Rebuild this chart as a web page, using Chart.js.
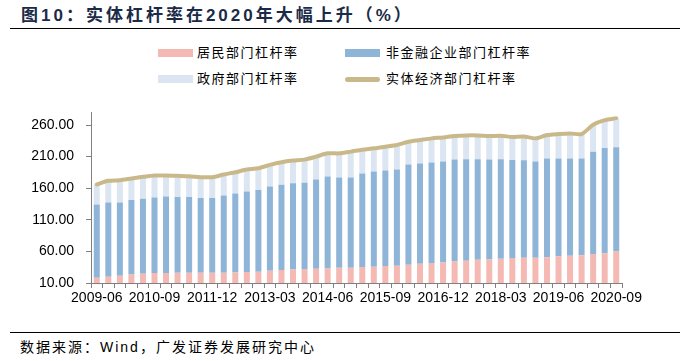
<!DOCTYPE html>
<html>
<head>
<meta charset="utf-8">
<script src="https://cdn.jsdelivr.net/npm/chart.js@4/dist/chart.umd.min.js"></script>
<style>
  body { margin: 0; background: #fff; width: 689px; height: 361px; position: relative; overflow: hidden; font-family: "Liberation Sans", "Noto Sans CJK SC", sans-serif; }
  #title { position: absolute; left: 21px; top: 1px; font-size: 17px; font-weight: bold; color: #1b2a47; white-space: nowrap; letter-spacing: 3px; }
  .rule { position: absolute; left: 10px; width: 670px; height: 1px; background: #000; }
  #footer { position: absolute; left: 20px; top: 336px; font-size: 14px; color: #000; letter-spacing: 2px; white-space: nowrap; }
  .leg { position: absolute; font-size: 13px; letter-spacing: 1.5px; color: #000; white-space: nowrap; line-height: 16px; }
  .sw { position: absolute; width: 35px; height: 8px; }
  #chartBox { position: absolute; left: 0; top: 92px; width: 689px; height: 223px; }
</style>
</head>
<body>
<div id="title">图10：实体杠杆率在2020年大幅上升（%）</div>
<div class="rule" style="top:28px"></div>

<div class="sw" style="left:158px;top:49px;background:#f4b9b2"></div>
<div class="leg" style="left:197px;top:45px">居民部门杠杆率</div>
<div class="sw" style="left:345px;top:49px;background:#8eb4d8"></div>
<div class="leg" style="left:386px;top:45px">非金融企业部门杠杆率</div>
<div class="sw" style="left:158px;top:75px;background:#dce6f2"></div>
<div class="leg" style="left:197px;top:71px">政府部门杠杆率</div>
<div class="sw" style="left:345px;top:77px;height:5px;border-radius:3px;background:#c9b98a"></div>
<div class="leg" style="left:386px;top:71px">实体经济部门杠杆率</div>

<div id="chartBox"><canvas id="c"></canvas></div>

<div class="rule" style="top:332px"></div>
<div id="footer">数据来源：Wind，广发证券发展研究中心</div>

<script>
const quarters = [
  '2009-06','2009-09','2009-12','2010-03','2010-06','2010-09','2010-12','2011-03','2011-06','2011-09',
  '2011-12','2012-03','2012-06','2012-09','2012-12','2013-03','2013-06','2013-09','2013-12','2014-03',
  '2014-06','2014-09','2014-12','2015-03','2015-06','2015-09','2015-12','2016-03','2016-06','2016-09',
  '2016-12','2017-03','2017-06','2017-09','2017-12','2018-03','2018-06','2018-09','2018-12','2019-03',
  '2019-06','2019-09','2019-12','2020-03','2020-06','2020-09'
];

// 居民部门
const household = [
  18.4, 20.0, 21.5, 23.6, 24.7, 25.7, 25.7, 26.3, 26.3, 26.3,
  26.3, 26.3, 26.8, 27.3, 27.8, 29.4, 30.5, 31.5, 32.0, 32.6,
  33.1, 34.2, 34.2, 35.2, 35.7, 36.8, 37.3, 38.9, 40.4, 41.5,
  42.5, 44.1, 45.2, 46.7, 47.3, 48.3, 49.4, 49.9, 49.9, 50.9,
  52.5, 53.0, 54.1, 55.7, 57.2, 59.9
];

// 非金融企业部门
const corporate = [
  116.0, 117.6, 116.1, 117.6, 118.6, 119.7, 121.3, 119.7, 119.7, 118.1,
  118.1, 122.3, 124.9, 127.6, 129.2, 133.4, 134.9, 136.5, 136.5, 141.2,
  145.4, 142.7, 142.7, 148.0, 150.7, 151.2, 152.2, 158.5, 158.6, 159.1,
  159.6, 161.2, 160.6, 159.1, 158.0, 157.5, 155.4, 154.3, 152.2, 156.0,
  154.4, 153.9, 152.8, 162.2, 166.4, 164.8
];

// 政府部门
const government = [
  31.5, 34.1, 35.1, 34.2, 34.7, 34.7, 33.1, 33.6, 33.0, 33.1,
  33.1, 33.1, 33.6, 34.6, 34.6, 34.1, 35.7, 35.7, 36.8, 36.2,
  36.7, 38.3, 41.0, 37.8, 36.7, 37.7, 38.9, 36.2, 37.2, 38.3,
  38.3, 37.2, 37.8, 37.8, 37.2, 37.3, 36.2, 37.8, 36.8, 37.2,
  38.8, 39.8, 38.8, 42.5, 44.1, 46.2
];

// 实体经济部门
const total = [
  165.9, 171.7, 172.7, 175.4, 178.0, 180.1, 180.1, 179.6, 179.0, 177.5,
  177.5, 181.7, 185.3, 189.5, 191.6, 196.9, 201.1, 203.7, 205.3, 210.0,
  215.2, 215.2, 217.9, 221.0, 223.1, 225.7, 228.4, 233.6, 236.2, 238.9,
  240.4, 242.5, 243.6, 243.6, 242.5, 243.1, 241.0, 242.0, 238.9, 244.1,
  245.7, 246.7, 245.7, 260.4, 267.7, 270.9
];

const yTicks = [10, 60, 110, 160, 210, 260];

const axisGrey = '#808080';

new Chart(document.getElementById('c'), {
  type: 'bar',
  data: {
    labels: quarters,
    datasets: [
      { type: 'line', label: '实体经济部门杠杆率', data: total, stack: 't', borderColor: '#c9b98a', borderWidth: 4,
        pointRadius: 0, tension: 0.25, borderCapStyle: 'round', order: 0 },
      { label: '居民部门杠杆率', data: household, stack: 's', backgroundColor: '#f4b9b2', order: 1 },
      { label: '非金融企业部门杠杆率', data: corporate, stack: 's', backgroundColor: '#8eb4d8', order: 1 },
      { label: '政府部门杠杆率', data: government, stack: 's', backgroundColor: '#dce6f2', order: 1 }
    ]
  },
  options: {
    responsive: true,
    maintainAspectRatio: false,
    animation: false,
    datasets: { bar: { barPercentage: 0.52, categoryPercentage: 1 } },
    layout: { padding: { left: 0, right: 67, top: 0, bottom: 0 } },
    plugins: { legend: { display: false }, tooltip: { enabled: false } },
    scales: {
      x: {
        stacked: true,
        offset: true,
        afterFit: s => { s.height = 32; },
        grid: { display: true, offset: true, drawOnChartArea: false, drawTicks: true, tickLength: 5, color: axisGrey },
        border: { display: true, color: axisGrey, width: 1 },
        ticks: {
          autoSkip: false, maxRotation: 0, padding: 2,
          color: '#000', font: { family: 'Liberation Sans', size: 14 },
          callback: (v, i) => (i % 5 === 0 ? quarters[i] : '')
        }
      },
      y: {
        stacked: true,
        min: 10,
        max: 280,
        afterFit: s => { s.width = 91; },
        afterBuildTicks: s => { s.ticks = yTicks.map(v => ({ value: v })); },
        grid: { display: true, drawOnChartArea: false, drawTicks: true, tickLength: 5, color: axisGrey },
        border: { display: true, color: axisGrey, width: 1 },
        ticks: {
          padding: 12, color: '#000', font: { family: 'Liberation Sans', size: 14 },
          callback: v => Number(v).toFixed(2)
        }
      }
    }
  }
});
</script>
</body>
</html>
